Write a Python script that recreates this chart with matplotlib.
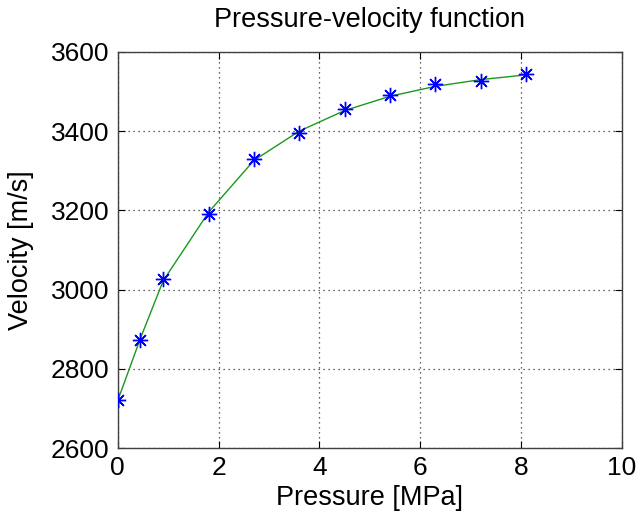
import numpy as np
import matplotlib.pyplot as plt

plt.rcParams['font.family'] = ['Liberation Sans', 'DejaVu Sans']

# measured points
pressure = [0, 0.45, 0.9, 1.8, 2.7, 3.6, 4.5, 5.4, 6.3, 7.2, 8.1]
velocity = [2722, 2873, 3027, 3192, 3330, 3396, 3455, 3491, 3518, 3527, 3545]
# fitted curve
velocityFit = [2720, 2877, 3022, 3195, 3326, 3400, 3452, 3488, 3513, 3530, 3542]

xTicks = [0, 2, 4, 6, 8, 10]
yTicks = [2600, 2800, 3000, 3200, 3400, 3600]

fig = plt.figure(figsize=(6.4, 5.24), dpi=100)
ax = fig.add_axes([0.184, 0.145, 0.788, 0.756])

ax.plot(pressure, velocityFit, color=(0.1, 0.6, 0.1), linewidth=1.0, zorder=2)
ax.plot(pressure, velocity, linestyle='none', marker=(8, 2, 0), markersize=11,
        markeredgewidth=1.0, color='blue', zorder=3)

ax.set_xlim(0, 10)
ax.set_ylim(2600, 3600)
ax.set_xticks(xTicks)
ax.set_yticks(yTicks)
ax.tick_params(direction='in', top=True, right=True, labelsize=19, length=5, pad=6)
ax.grid(True, linestyle=(0, (1, 3)), color='#333333', linewidth=0.9)
for s in ax.spines.values():
    s.set_color('#404040')
    s.set_linewidth(1.0)

ax.set_title("Pressure-velocity function", fontsize=19.5, pad=18)
ax.set_xlabel("Pressure [MPa]", fontsize=19.5, labelpad=3)
ax.set_ylabel("Velocity [m/s]", fontsize=19.5, labelpad=12)

fig.savefig("out.png", dpi=100)
print("finished")
